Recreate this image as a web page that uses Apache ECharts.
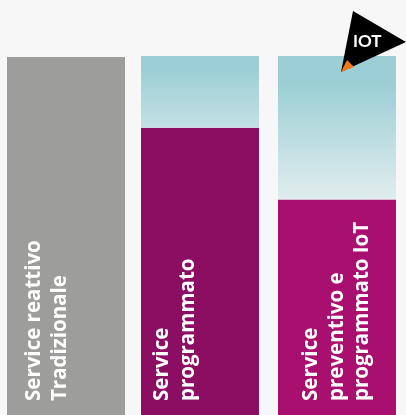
<!DOCTYPE html>
<html><head><meta charset="utf-8">
<style>html,body{margin:0;padding:0;background:#f7f7f7}#c{width:406px;height:415px}</style>
<script src="https://cdn.jsdelivr.net/npm/echarts@6/dist/echarts.min.js"></script>
</head><body><div id="c"></div>
<script>
const categories = ['Service reattivo\nTradizionale', 'Service\nprogrammato', 'Service\npreventivo e\nprogrammato IoT'];
const solidValues = [99.7, 80, 60];
const remainderValues = [0, 20, 40];
const solidColors = ['#9d9d9c', '#8b0e63', '#a90f6e'];
const barLeft = [7, 141, 278];
const labelOffsets = [-19, -25, 0];
const fadeStops = [
  null,
  [[0, '#9ccfd5'], [0.2, '#9ccfd5'], [1, '#c4e1e5']],
  [[0, '#9ccfd5'], [0.2, '#9ccfd5'], [1, '#e1edee']]
];
const chart = echarts.init(document.getElementById('c'));
const idx = [0, 1, 2];
chart.setOption({
  backgroundColor: '#f7f7f7',
  animation: false,
  grid: idx.map(i => ({left: barLeft[i], width: 118, top: 56, height: 359})),
  xAxis: idx.map(i => ({type: 'category', gridIndex: i, data: [categories[i]], show: false})),
  yAxis: idx.map(i => ({type: 'value', gridIndex: i, min: 0, max: 100, show: false})),
  series: idx.flatMap(i => [
    {type: 'bar', xAxisIndex: i, yAxisIndex: i, stack: 's' + i, barWidth: '100%',
     data: [solidValues[i]], itemStyle: {color: solidColors[i]},
     label: {show: true, position: 'insideBottom', distance: 14, rotate: 90, align: 'left', verticalAlign: 'middle',
       offset: [0, labelOffsets[i]], formatter: () => categories[i], color: '#fff',
       fontFamily: 'Open Sans', fontWeight: 700, fontSize: 20.5, lineHeight: 25.5}},
    {type: 'bar', xAxisIndex: i, yAxisIndex: i, stack: 's' + i, barWidth: '100%',
     data: [remainderValues[i]], silent: true,
     itemStyle: {color: fadeStops[i] ? new echarts.graphic.LinearGradient(0, 0, 0, 1,
       fadeStops[i].map(s => ({offset: s[0], color: s[1]}))) : 'transparent'}}
  ]),
  graphic: [
    {type: 'polygon', z: 100, shape: {points: [[353, 11], [406, 42], [341, 72]]}, style: {fill: '#000'}},
    {type: 'polygon', z: 101, shape: {points: [[341, 72], [347, 60], [354, 67]]}, style: {fill: '#ee7a1c'}},
    {type: 'text', z: 102, left: 353, top: 33, style: {text: 'IOT', fill: '#fff', font: '700 17px Lato'}}
  ]
});
</script></body></html>
